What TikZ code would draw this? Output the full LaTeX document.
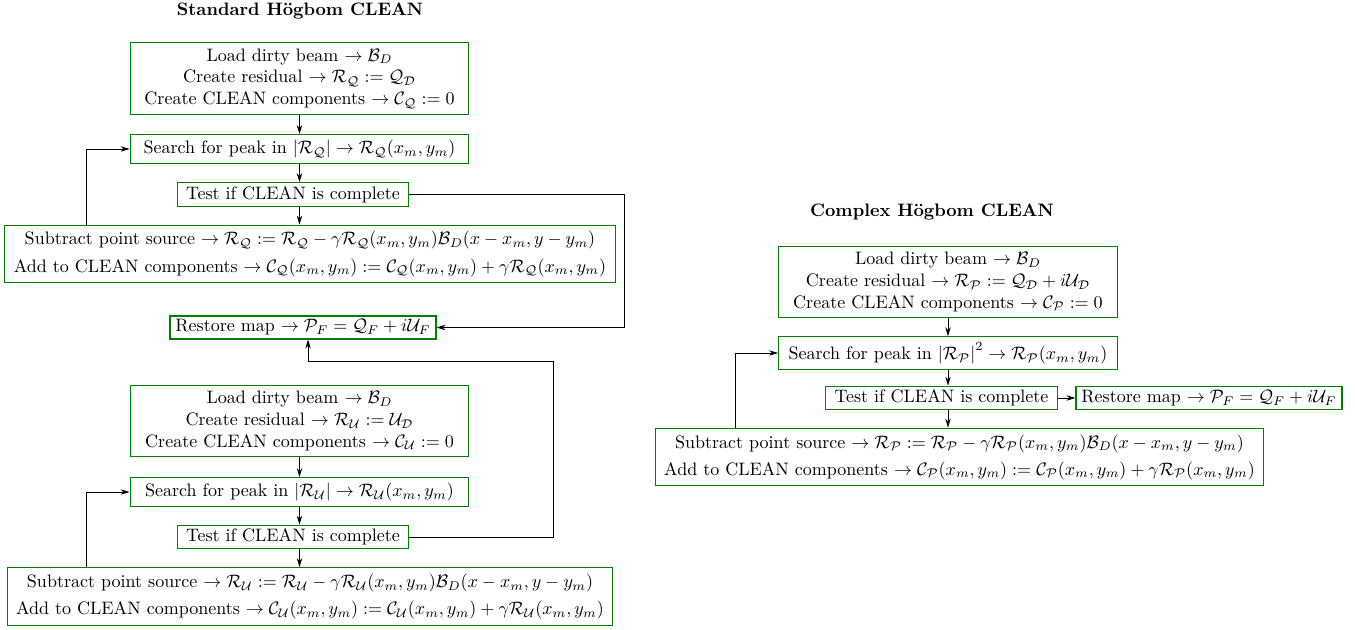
\documentclass[tikz,border=0pt]{standalone}
\usepackage{amsmath}
\usetikzlibrary{arrows.meta}
\definecolor{boxgreen}{rgb}{0,0.5,0}
\tikzset{
    stepnode/.style={draw=boxgreen,line width=0.6pt,align=center,inner xsep=5pt,inner ysep=2pt},
    widenode/.style={stepnode,inner ysep=3.5pt,minimum width=188pt},
    subnode/.style={stepnode,inner ysep=3.5pt},
    endnode/.style={stepnode,inner xsep=3pt},
    flow/.style={-{Stealth[length=5pt,width=3pt]}}
}
\begin{document}
\begin{tikzpicture}[x=0.555pt,y=-0.555pt]
    \useasboundingbox (0,0) rectangle (1355,629);
        %% Standard (Q and U)
        \node[anchor=center,font=\bfseries] (TitleS) at (300,11) {Standard H\"ogbom CLEAN};
        \node[widenode] (InitQ) at (299.5,78.5) {Load dirty beam $\rightarrow \mathcal{B}_D$\\
            Create residual $\rightarrow \mathcal{R}_\mathcal{Q} := \mathcal{Q}_\mathcal{D}$\\
            Create CLEAN components $\rightarrow \mathcal{C}_\mathcal{Q} := 0$};
        \node[widenode,inner ysep=3pt] (SearchQ) at (299.5,149) {Search for peak in $|\mathcal{R}_\mathcal{Q}| \rightarrow \mathcal{R}_\mathcal{Q}(x_m,y_m)$};
        \node[stepnode] (TestQ) at (293,194.5) {Test if CLEAN is complete};
        \node[subnode] (SubQ) at (310,254) {Subtract point source $\rightarrow \mathcal{R}_\mathcal{Q} := \mathcal{R}_\mathcal{Q} - \gamma\mathcal{R}_\mathcal{Q}(x_m,y_m)\mathcal{B}_D(x-x_m,y-y_m)$\\[3pt]
            Add to CLEAN components $\rightarrow \mathcal{C}_\mathcal{Q}(x_m,y_m) := \mathcal{C}_\mathcal{Q}(x_m,y_m) + \gamma\mathcal{R}_\mathcal{Q}(x_m,y_m)$};
        \node[endnode] (Restore) at (303,327.5) {Restore map $\rightarrow \mathcal{P}_F = \mathcal{Q}_F + i\mathcal{U}_F$};
        \node[widenode] (InitU) at (299.5,421) {Load dirty beam $\rightarrow \mathcal{B}_D$\\
            Create residual $\rightarrow \mathcal{R}_\mathcal{U} := \mathcal{U}_\mathcal{D}$\\
            Create CLEAN components $\rightarrow \mathcal{C}_\mathcal{U} := 0$};
        \node[widenode,inner ysep=3pt] (SearchU) at (299.5,492) {Search for peak in $|\mathcal{R}_\mathcal{U}| \rightarrow \mathcal{R}_\mathcal{U}(x_m,y_m)$};
        \node[stepnode] (TestU) at (293,537) {Test if CLEAN is complete};
        \node[subnode] (SubU) at (310,596.5) {Subtract point source $\rightarrow \mathcal{R}_\mathcal{U} := \mathcal{R}_\mathcal{U} - \gamma\mathcal{R}_\mathcal{U}(x_m,y_m)\mathcal{B}_D(x-x_m,y-y_m)$\\[3pt]
            Add to CLEAN components $\rightarrow \mathcal{C}_\mathcal{U}(x_m,y_m) := \mathcal{C}_\mathcal{U}(x_m,y_m) + \gamma\mathcal{R}_\mathcal{U}(x_m,y_m)$};
        \coordinate (LoopQ) at (86,0);
        \coordinate (OutQ)  at (624,327.5);
        \coordinate (OutU)  at (553,361);
            \draw[flow] (InitQ) -- (SearchQ);
            \draw[flow] (SearchQ.south) -- (SearchQ.south |- TestQ.north);
            \draw[flow] (SearchQ.south |- TestQ.south) -- (SearchQ.south |- SubQ.north);
            \draw[flow] (SubQ.north -| LoopQ) |- (SearchQ.west);
            \draw[flow] (TestQ.east) -| (OutQ) -- (Restore.east);
            \draw[flow] (InitU) -- (SearchU);
            \draw[flow] (SearchU.south) -- (SearchU.south |- TestU.north);
            \draw[flow] (SearchU.south |- TestU.south) -- (SearchU.south |- SubU.north);
            \draw[flow] (SubU.north -| LoopQ) |- (SearchU.west);
            \draw[flow] (TestU.east) -| (OutU) -| ([xshift=2.8pt]Restore.south);
        %% Complex (P)
        \node[anchor=center,font=\bfseries] (TitleC) at (932,212) {Complex H\"ogbom CLEAN};
        \node[widenode] (InitP) at (948,282) {Load dirty beam $\rightarrow \mathcal{B}_D$\\
            Create residual $\rightarrow \mathcal{R}_\mathcal{P} := \mathcal{Q}_\mathcal{D} + i\mathcal{U}_\mathcal{D}$\\
            Create CLEAN components $\rightarrow \mathcal{C}_\mathcal{P} := 0$};
        \node[widenode,inner ysep=3pt] (SearchP) at (948,353) {Search for peak in $\left|\mathcal{R}_\mathcal{P}\right|^2 \rightarrow \mathcal{R}_\mathcal{P}(x_m,y_m)$};
        \node[stepnode] (TestP) at (941.5,398) {Test if CLEAN is complete};
        \node[endnode] (RestoreP) at (1209,398) {Restore map $\rightarrow \mathcal{P}_F = \mathcal{Q}_F + i\mathcal{U}_F$};
        \node[subnode] (SubP) at (959.5,457) {Subtract point source $\rightarrow \mathcal{R}_\mathcal{P} := \mathcal{R}_\mathcal{P} - \gamma\mathcal{R}_\mathcal{P}(x_m,y_m)\mathcal{B}_D(x-x_m,y-y_m)$\\[3pt]
            Add to CLEAN components $\rightarrow \mathcal{C}_\mathcal{P}(x_m,y_m) := \mathcal{C}_\mathcal{P}(x_m,y_m) + \gamma\mathcal{R}_\mathcal{P}(x_m,y_m)$};
        \coordinate (LoopP) at (735,0);
            \draw[flow] (InitP) -- (SearchP);
            \draw[flow] (SearchP.south) -- (SearchP.south |- TestP.north);
            \draw[flow] (SearchP.south |- TestP.south) -- (SearchP.south |- SubP.north);
            \draw[flow] (SubP.north -| LoopP) |- (SearchP.west);
            \draw[flow] (TestP) -- (RestoreP);
\end{tikzpicture}
\end{document}
